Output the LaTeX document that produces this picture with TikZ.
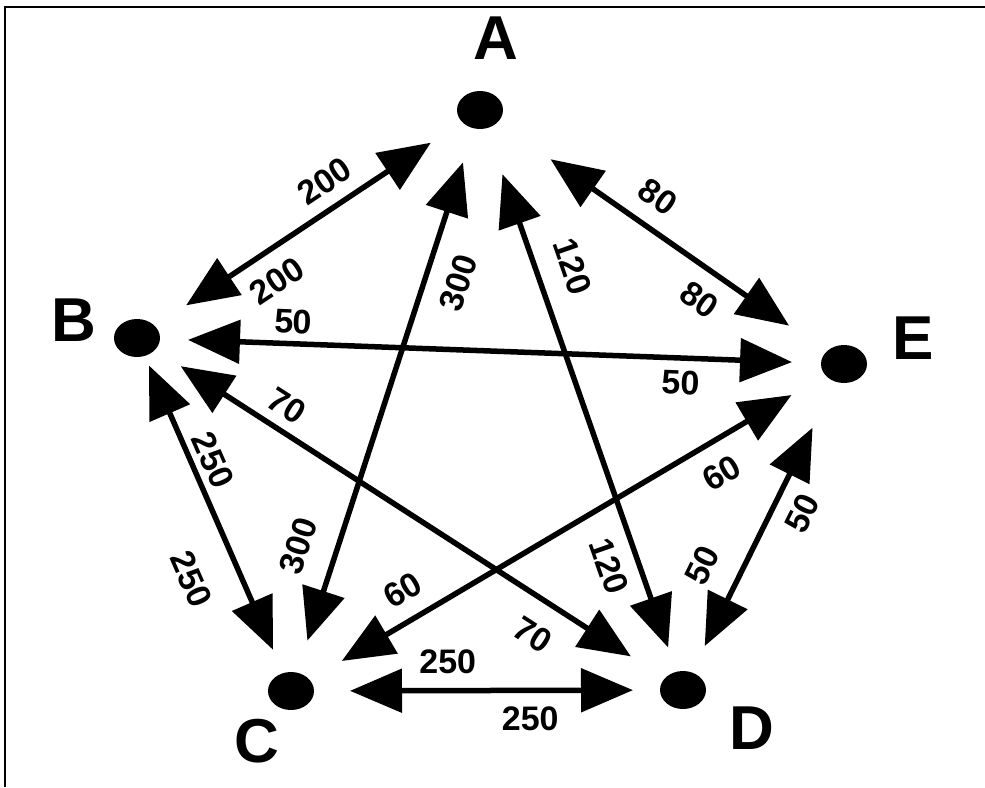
\documentclass[tikz,border=0pt]{standalone}
\usepackage{fontspec}
\setmainfont{Liberation Sans}
\usetikzlibrary{arrows.meta, shapes.geometric}

\tikzset{
  dot/.style={ellipse, fill=black, minimum width=46pt, minimum height=38pt, inner sep=0pt},
  vertex/.style={font=\fontsize{62}{62}\selectfont\bfseries, inner sep=0pt},
  link/.style={<->, line width=5.5pt},
  wt/.style={font=\fontsize{34}{34}\selectfont\bfseries, sloped, inner sep=1pt},
}

\begin{document}
\begin{tikzpicture}[x=1pt, y=-1pt, >={Triangle[length=52pt, width=43pt]}]
\useasboundingbox (0,0) rectangle (985,787);

% Frame (top and left edges only)
\draw[line width=2.5pt] (985,7) -- (5,7) -- (5,787);

% Vertices
\node[dot] (A) at (480,110) {};
\node[dot] (B) at (137,338) {};
\node[dot] (C) at (291,691) {};
\node[dot] (D) at (683,690) {};
\node[dot] (E) at (844,364) {};

% Vertex letters
\node[vertex] (labA) at (496,38) {A};
\node[vertex] (labB) at (74,320) {B};
\node[vertex] (labC) at (257,741) {C};
\node[vertex] (labD) at (752,728) {D};
\node[vertex] (labE) at (913,338) {E};

% Two-way links with weights
\draw[link, shorten <=59pt, shorten >=59pt] (A.center) -- (B.center)
  node[wt, pos=0.41, above=11pt] {200}
  node[wt, pos=0.64, below=14pt] {200};
\draw[link, shorten <=55pt, shorten >=53pt] (A.center) -- (C.center)
  node[wt, pos=0.28, below=17pt] {300}
  node[wt, pos=0.77, above=22pt] {300};
\draw[link, shorten <=68pt, shorten >=45pt] (A.center) -- (D.center)
  node[wt, pos=0.29, above=20pt] {120}
  node[wt, pos=0.77, below=13pt] {120};
\draw[link, shorten <=86pt, shorten >=67pt] (A.center) -- (E.center)
  node[wt, pos=0.44, above=15pt] {80}
  node[wt, pos=0.65, below=14pt] {80};
\draw[link, shorten <=51pt, shorten >=52pt] (B.center) -- (E.center)
  node[wt, pos=0.22, above=6pt] {50}
  node[wt, pos=0.77, below=9pt] {50};
\draw[link, shorten <=30pt, shorten >=45pt] (B.center) -- (C.center)
  node[wt, pos=0.37, above=5pt] {250}
  node[wt, pos=0.63, below=31pt] {250};
\draw[link, shorten <=52pt, shorten >=62pt] (B.center) -- (D.center)
  node[wt, pos=0.25, above=8pt] {70}
  node[wt, pos=0.76, below=19pt] {70};
\draw[link, shorten <=59pt, shorten >=61pt] (C.center) -- (E.center)
  node[wt, pos=0.23, above=14pt] {60}
  node[wt, pos=0.75, below=16pt] {60};
\draw[link, shorten <=59pt, shorten >=50pt] (C.center) -- (D.center)
  node[wt, pos=0.40, above=13pt] {250}
  node[wt, pos=0.61, below=13pt] {250};
\draw[link, shorten <=49pt, shorten >=71pt] (D.center) -- (E.center)
  node[wt, pos=0.33, above=22pt] {50}
  node[wt, pos=0.58, below=13pt] {50};

\end{tikzpicture}
\end{document}
